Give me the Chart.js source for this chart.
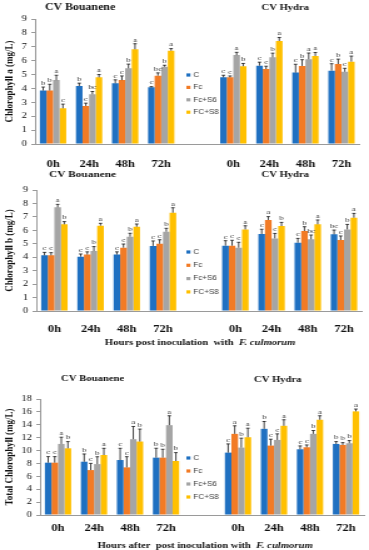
<!DOCTYPE html>
<html>
<head>
<meta charset="utf-8">
<script src="https://cdn.jsdelivr.net/npm/chart.js@4.4.1/dist/chart.umd.min.js"></script>
<style>
  body { margin: 0; background: #fff; width: 369px; height: 550px; position: relative; overflow: hidden; }
  canvas { position: absolute; left: 0; }
</style>
</head>
<body>
<!-- the original figure is stretched sideways, so the canvases are drawn narrow and widened by css -->
<canvas id="chlA" width="295" height="172" style="top:0;width:369px;height:172px"></canvas>
<canvas id="chlB" width="295" height="184" style="top:166px;width:369px;height:184px"></canvas>
<canvas id="chlT" width="295" height="200" style="top:350px;width:369px;height:200px"></canvas>
<script>
const times = ['0h', '24h', '48h', '72h'];
const treatments = ['C', 'Fc', 'Fc+S6', 'FC+S8'];
const colors = ['#1f70c1', '#f27b25', '#a5a5a5', '#ffc000'];

// one row per treatment (C, Fc, Fc+S6, FC+S8), one column per time
const chlA_bou = [[3.85, 4.18, 4.37, 4.08], [3.85, 2.74, 4.60, 4.92], [4.60, 3.58, 5.45, 5.57], [2.57, 4.80, 6.82, 6.72]];
const chlA_bou_err = [[0.25, 0.2, 0.25, 0.05], [0.45, 0.2, 0.3, 0.2], [0.35, 0.2, 0.3, 0.1], [0.3, 0.2, 0.4, 0.15]];
const chlA_bou_sig = [['b', 'b', 'c', 'c'], ['b', 'c', 'c', 'bc'], ['a', 'bc', 'b', 'b'], ['c', 'a', 'a', 'a']];
const chlA_hyd = [[4.8, 5.64, 5.14, 5.28], [4.8, 5.4, 5.62, 5.76], [6.4, 6.24, 6.1, 5.2], [5.6, 7.42, 6.34, 5.93]];
const chlA_hyd_err = [[0.15, 0.25, 0.6, 0.5], [0.1, 0.2, 0.45, 0.35], [0.2, 0.3, 0.45, 0.25], [0.2, 0.25, 0.25, 0.4]];
const chlA_hyd_sig = [['c', 'c', 'c', 'c'], ['c', 'c', 'b', 'b'], ['a', 'b', 'a', 'c'], ['b', 'a', 'a', 'a']];

const chlB_bou = [[4.14, 4.04, 4.2, 4.84], [4.14, 4.2, 4.71, 5.0], [7.71, 4.46, 5.53, 5.9], [6.45, 6.35, 6.27, 7.31]];
const chlB_bou_err = [[0.22, 0.2, 0.2, 0.37], [0.2, 0.2, 0.27, 0.3], [0.22, 0.33, 0.25, 0.25], [0.2, 0.17, 0.2, 0.37]];
const chlB_bou_sig = [['c', 'c', 'c', 'c'], ['c', 'c', 'c', 'c'], ['a', 'b', 'b', 'b'], ['b', 'a', 'a', 'a']];
const chlB_hyd = [[4.86, 5.73, 5.08, 5.7], [4.86, 6.77, 5.95, 5.28], [4.71, 5.4, 5.33, 6.07], [6.07, 6.32, 6.45, 6.94]];
const chlB_hyd_err = [[0.37, 0.35, 0.32, 0.32], [0.4, 0.25, 0.32, 0.3], [0.4, 0.37, 0.32, 0.37], [0.27, 0.27, 0.32, 0.32]];
const chlB_hyd_sig = [['c', 'c', 'c', 'bc'], ['c', 'a', 'b', 'c'], ['c', 'c', 'bc', 'b'], ['a', 'b', 'a', 'a']];

const chlT_bou = [[8.12, 8.27, 8.53, 8.9], [8.12, 6.97, 7.39, 8.9], [11.03, 7.9, 11.76, 13.94], [10.35, 9.31, 11.4, 8.38]];
const chlT_bou_err = [[0.94, 1.2, 1.82, 1.46], [0.94, 1.04, 1.66, 1.3], [1.04, 1.14, 1.98, 1.46], [1.04, 1.04, 1.93, 1.3]];
const chlT_bou_sig = [['c', 'b', 'c', 'b'], ['c', 'c', 'c', 'b'], ['a', 'b', 'a', 'a'], ['b', 'a', 'b', 'b']];
const chlT_hyd = [[9.68, 13.37, 10.2, 11.03], [12.59, 10.77, 10.51, 10.87], [10.46, 11.65, 12.59, 11.13], [12.07, 13.84, 14.78, 16.08]];
const chlT_hyd_err = [[1.35, 1.14, 0.52, 0.36], [1.25, 0.99, 0.36, 0.36], [1.46, 0.94, 0.52, 0.42], [1.4, 0.94, 0.62, 0.36]];
const chlT_hyd_sig = [['c', 'b', 'c', 'b'], ['a', 'c', 'c', 'b'], ['b', 'c', 'b', 'b'], ['a', 'a', 'a', 'a']];

const serif = "'Liberation Serif', 'Times New Roman', serif";
const sans = "'Liberation Sans Narrow', 'Arial Narrow', 'Liberation Sans', sans-serif";

// error bars, letters, panel titles, legend and x title
function decor(o) {
  return {
    id: 'decor',
    afterDatasetsDraw(chart) {
      const ctx = chart.ctx;
      const y = chart.scales.y;
      ctx.save();
      chart.data.datasets.forEach((ds, i) => {
        chart.getDatasetMeta(i).data.forEach((bar, j) => {
          const v = ds.data[j];
          if (v == null) return;
          const top = y.getPixelForValue(v + ds.err[j]);
          ctx.strokeStyle = '#111';
          ctx.lineWidth = 0.8;
          ctx.beginPath();
          ctx.moveTo(bar.x, bar.y);
          ctx.lineTo(bar.x, top);
          ctx.moveTo(bar.x - 1.4, top);
          ctx.lineTo(bar.x + 1.4, top);
          ctx.stroke();
          ctx.fillStyle = '#333';
          ctx.font = '7px ' + serif;
          ctx.textAlign = 'center';
          ctx.textBaseline = 'bottom';
          ctx.fillText(ds.sig[j], bar.x, top - 0.5);
        });
      });

      ctx.fillStyle = '#111';
      ctx.textAlign = 'center';
      ctx.textBaseline = 'middle';
      o.titles.forEach(t => {
        ctx.font = 'bold ' + t.size + 'px ' + serif;
        ctx.fillText(t.text, t.x, t.y);
      });

      ctx.font = '6.5px ' + sans;
      ctx.textAlign = 'left';
      chart.data.datasets.forEach((ds, i) => {
        const ly = o.legendY + i * o.legendStep;
        ctx.fillStyle = ds.backgroundColor;
        ctx.fillRect(149, ly - 1.6, 3.2, 3.2);
        ctx.fillStyle = '#404040';
        ctx.fillText(ds.label, 154.5, ly);
      });

      if (o.xTitle) {
        const a = o.xTitle[0], b = o.xTitle[1];
        const fa = 'bold 8.5px ' + serif, fb = 'italic bold 8.5px ' + serif;
        ctx.font = fa;
        const wa = ctx.measureText(a).width;
        ctx.font = fb;
        const wb = ctx.measureText(b).width;
        let x = o.xTitleX - (wa + wb) / 2;
        ctx.fillStyle = '#111';
        ctx.font = fa;
        ctx.fillText(a, x, o.xTitleY);
        ctx.font = fb;
        ctx.fillText(b, x + wa, o.xTitleY);
      }
      ctx.restore();
    }
  };
}

function makeChart(id, bou, bouErr, bouSig, hyd, hydErr, hydSig, o) {
  const labels = [...times, '', ...times];
  const datasets = treatments.map((name, t) => ({
    label: name,
    data: [...bou[t], null, ...hyd[t]],
    err: [...bouErr[t], 0, ...hydErr[t]],
    sig: [...bouSig[t], '', ...hydSig[t]],
    backgroundColor: colors[t],
    borderWidth: 0,
    categoryPercentage: 0.73,
    barPercentage: 1
  }));

  new Chart(document.getElementById(id), {
    type: 'bar',
    data: { labels: labels, datasets: datasets },
    options: {
      responsive: false,
      animation: false,
      layout: { padding: { top: o.top, right: 4, left: 0, bottom: 0 } },
      plugins: { legend: { display: false }, tooltip: { enabled: false } },
      scales: {
        x: {
          grid: { display: false, drawTicks: false },
          border: { color: '#9a9a9a', width: 1 },
          ticks: {
            font: { family: serif, size: 10, weight: 'bold' },
            color: '#111',
            padding: o.xPad,
            maxRotation: 0,
            autoSkip: false
          },
          afterFit(s) { s.height = o.xH; }
        },
        y: {
          min: 0,
          max: o.max,
          ticks: { stepSize: o.step, autoSkip: false, font: { family: serif, size: 8.5 }, color: '#111', padding: 3.5 },
          grid: { drawOnChartArea: false, tickLength: 3, color: '#9a9a9a' },
          border: { color: '#9a9a9a' },
          title: {
            display: true,
            text: o.yTitle,
            font: { family: serif, size: 9, weight: 'bold' },
            color: '#111',
            padding: { top: 2.5, bottom: 0 }
          },
          afterFit(s) { s.width = o.yW; }
        }
      }
    },
    plugins: [decor(o)]
  });
}

makeChart('chlA', chlA_bou, chlA_bou_err, chlA_bou_sig, chlA_hyd, chlA_hyd_err, chlA_hyd_sig, {
  top: 19, xH: 28, xPad: 14, yW: 28, max: 9, step: 1,
  yTitle: 'Chlorophyll a (mg/L)',
  titles: [{ text: 'CV Bouanene', x: 64, y: 8, size: 9.5 }, { text: 'CV Hydra', x: 228, y: 8, size: 8.5 }],
  legendY: 75, legendStep: 12.4
});

makeChart('chlB', chlB_bou, chlB_bou_err, chlB_bou_sig, chlB_hyd, chlB_hyd_err, chlB_hyd_sig, {
  top: 24, xH: 39, xPad: 12, yW: 29, max: 9, step: 1,
  yTitle: 'Chlorophyll b (mg/L)',
  titles: [{ text: 'CV Bouanene', x: 66, y: 8.5, size: 9 }, { text: 'CV Hydra', x: 228, y: 8.5, size: 8.5 }],
  legendY: 86, legendStep: 13.3,
  xTitle: ['Hours post inoculation  with  ', 'F. culmorum'], xTitleX: 160, xTitleY: 177
});

makeChart('chlT', chlT_bou, chlT_bou_err, chlT_bou_sig, chlT_hyd, chlT_hyd_err, chlT_hyd_sig, {
  top: 49, xH: 35, xPad: 7, yW: 32, max: 18, step: 2,
  yTitle: 'Total Chlorophyll (mg/L)',
  titles: [{ text: 'CV Bouanene', x: 74, y: 29, size: 8.5 }, { text: 'CV Hydra', x: 222, y: 30, size: 8.5 }],
  legendY: 108, legendStep: 13,
  xTitle: ['Hours after  post inoculation with  ', 'F. culmorum'], xTitleX: 164, xTitleY: 196
});
</script>
</body>
</html>
